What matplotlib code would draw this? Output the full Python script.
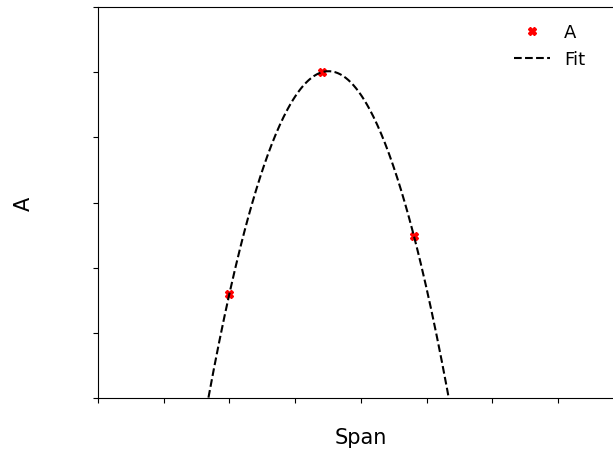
import numpy as np
import matplotlib
matplotlib.use("Agg")
import matplotlib.pyplot as plt

span = [2.0, 3.41, 4.81]
a_vals = [1.60, 5.00, 2.48]

# quadratic fit through the points
coef = np.polyfit(span, a_vals, 2)
xs = np.linspace(0, 8, 400)
ys = np.polyval(coef, xs)

fig = plt.figure(figsize=(6.13, 4.52), dpi=100)
ax = fig.add_axes([98 / 613, 53 / 452, 525.6 / 613, 391 / 452])

ax.plot(span, a_vals, 'X', color='red', markersize=6, linestyle='none', label='A')
ax.plot(xs, ys, '--', color='black', linewidth=1.5, label='Fit')

ax.set_xlim(0, 8)
ax.set_ylim(0, 6)
ax.set_xticks(np.arange(0, 9, 1))
ax.set_yticks(np.arange(0, 7, 1))
ax.set_xticklabels([])
ax.set_yticklabels([])

ax.set_xlabel('Span', fontsize=15)
ax.set_ylabel('A', fontsize=15)
ax.xaxis.set_label_coords((361 - 98) / 525.6, -0.075)
ax.yaxis.set_label_coords((34 - 98) / 525.6, 0.5)

ax.legend(loc='upper right', bbox_to_anchor=(0.958, 1.0), frameon=False, fontsize=13)

fig.savefig('out.png', dpi=100)
